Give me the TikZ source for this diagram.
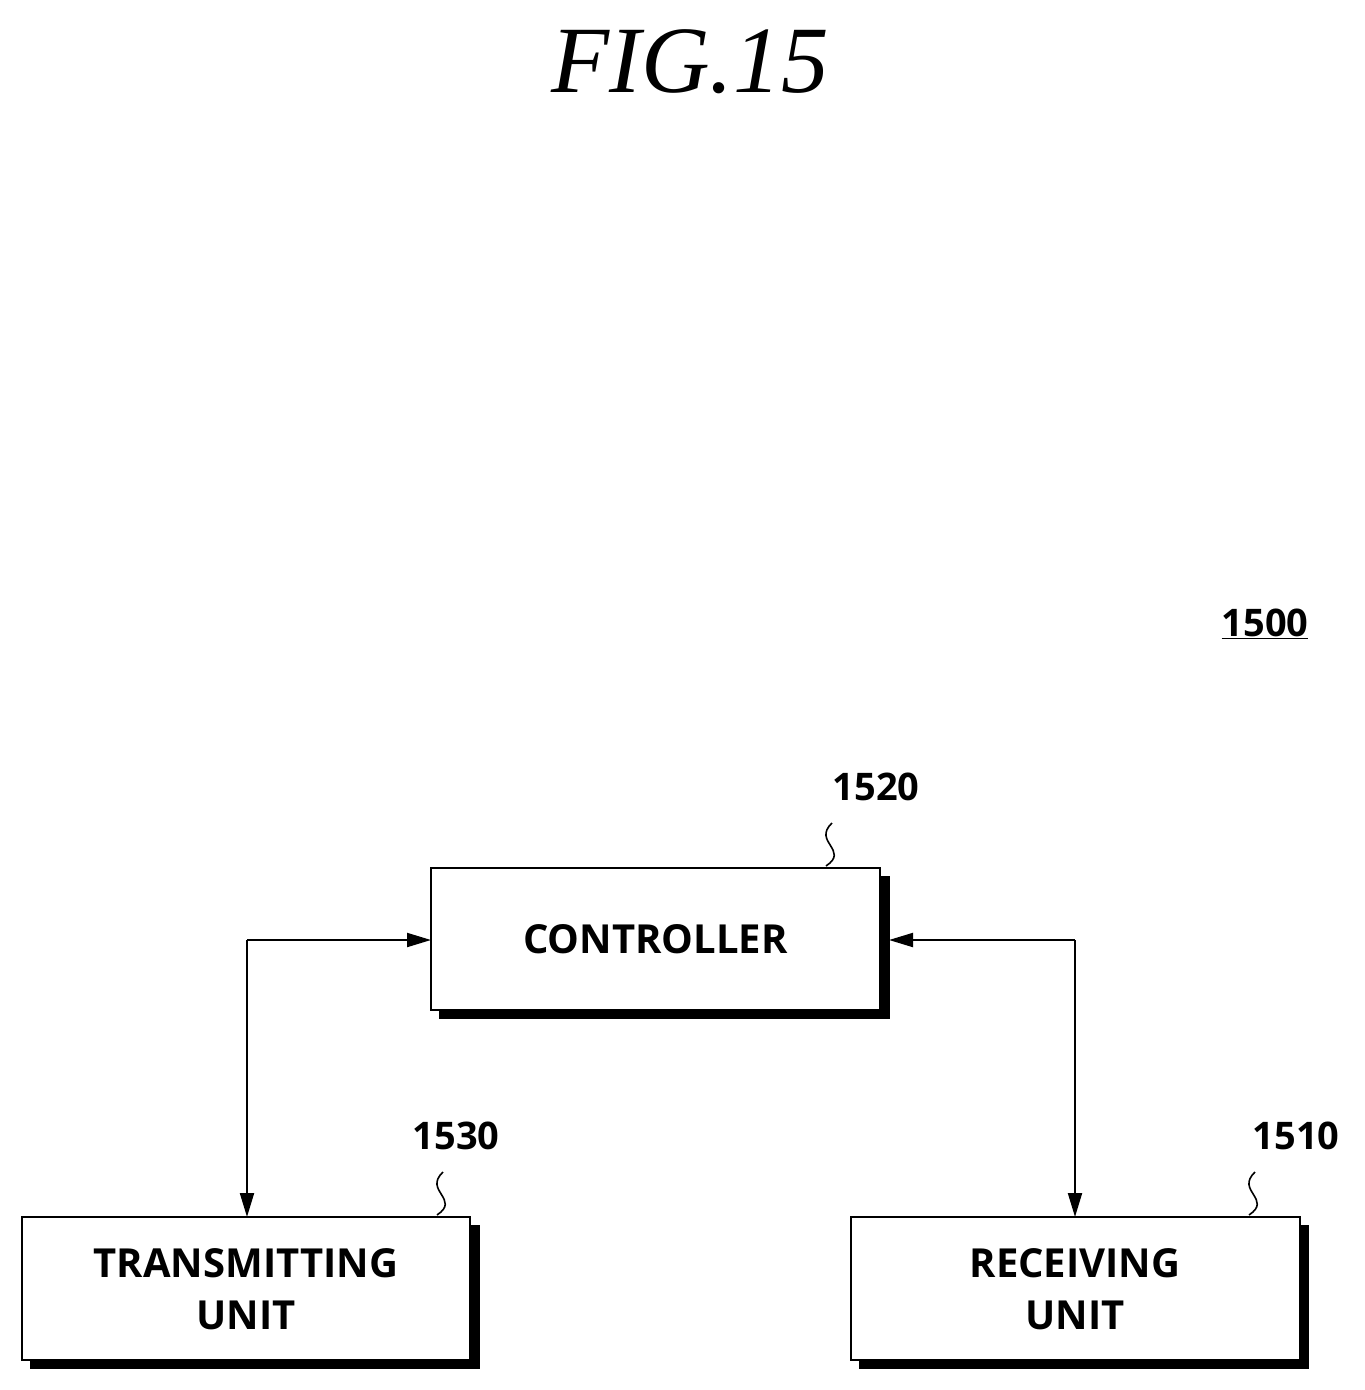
\documentclass[tikz,border=0pt]{standalone}
\usepackage{fontspec}
\setmainfont{Open Sans}
\usetikzlibrary{arrows.meta}
\begin{document}
\begin{tikzpicture}[x=1pt,y=-1pt,
  box/.style={draw,line width=2.2pt,fill=white,minimum width=#1,inner sep=0},
  lbl/.style={font=\fontsize{38}{40}\selectfont\bfseries},
  txt/.style={font=\fontsize{40}{52}\selectfont\bfseries,align=center},
  arr/.style={line width=2pt,-{Triangle[length=24pt,width=14pt]}},
  sq/.style={line width=1.6pt}]
\useasboundingbox (0,0) rectangle (1365,1390);
\node[font=\fontsize{95}{95}\selectfont\itshape\fontspec{Liberation Serif}] (title) at (690,62) {FIG.15};
\node[lbl] (n1500) at (1265,624) {\underline{1500}};
% shadows
\fill (439,876) rectangle (890,1019);
\fill (30,1225) rectangle (480,1369);
\fill (859,1225) rectangle (1309,1369);
\draw[line width=2.2pt,fill=white] (431,868) rectangle (880,1010);
\node[txt] (ctrl) at (655.5,939) {CONTROLLER};
\draw[line width=2.2pt,fill=white] (22,1217) rectangle (470,1360);
\node[txt] (tx) at (246,1289) {TRANSMITTING\\UNIT};
\draw[line width=2.2pt,fill=white] (851,1217) rectangle (1300,1360);
\node[txt] (rx) at (1075,1289) {RECEIVING\\UNIT};
\coordinate (cl) at (431,940);
\coordinate (cr) at (889,940);
\coordinate (tt) at (247,1217);
\coordinate (rt) at (1075,1217);
\draw[arr] (247,940) -- (cl);
\draw[arr] (247,940) -- (tt);
\draw[arr] (1075,940) -- (cr);
\draw[arr] (1075,940) -- (rt);
\node[lbl] (n1520) at (876,787) {1520};
\node[lbl] (n1530) at (456,1136) {1530};
\node[lbl] (n1510) at (1296,1136) {1510};
\draw[sq] (826,866) .. controls (850,850) and (812,842) .. (832,823);
\draw[sq] (437,1215) .. controls (461,1199) and (423,1191) .. (443,1172);
\draw[sq] (1249,1215) .. controls (1273,1199) and (1235,1191) .. (1255,1172);
\end{tikzpicture}
\end{document}
